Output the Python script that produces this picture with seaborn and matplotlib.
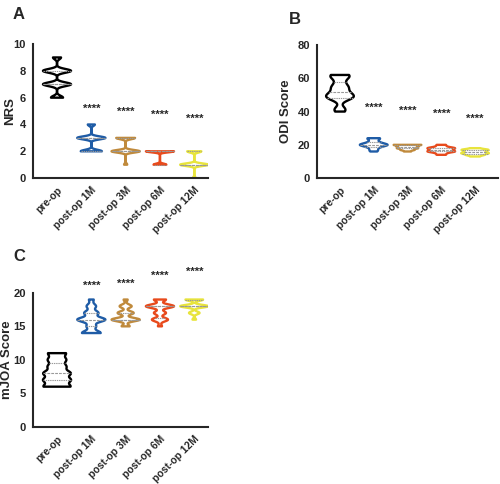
"""Violin plots of NRS, ODI and mJOA scores before and after surgery."""

import matplotlib
matplotlib.use("Agg")
import matplotlib.pyplot as plt
import pandas as pd
import seaborn as sns

GROUPS = ["pre-op", "post-op 1M", "post-op 3M", "post-op 6M", "post-op 12M"]
COLORS = ["#000000", "#1f5ca6", "#c08a3c", "#e84a1c", "#e8e43c"]

# NRS
NRS_PRE = [6, 6, 6, 7, 7, 7, 7, 7, 7, 7, 8, 8, 8, 8, 8, 8, 8, 9, 9]
NRS_1M = [2, 2, 2, 2, 2, 2, 3, 3, 3, 3, 3, 3, 3, 3, 4, 4]
NRS_3M = [1, 2, 2, 2, 2, 2, 2, 2, 2, 2, 3, 3, 3, 3, 3, 3]
NRS_6M = [1, 1, 1, 1, 1, 2, 2, 2, 2, 2, 2, 2, 2, 2, 2, 2]
NRS_12M = [0, 1, 1, 1, 1, 1, 1, 1, 1, 1, 1, 2, 2, 2, 2, 2]
NRS_STARS = [5.2, 4.95, 4.7, 4.4]

# ODI
ODI_PRE = [40, 41, 42, 47, 48, 48, 49, 49, 50, 50, 51, 52, 54, 54, 55, 56, 58, 60, 61, 62, 62, 62]
ODI_1M = [16, 17, 18, 19, 19, 20, 20, 20, 20, 21, 21, 22, 23, 24, 24]
ODI_3M = [16, 17, 17, 18, 18, 18, 19, 19, 19, 20, 20, 20, 20]
ODI_6M = [14, 15, 16, 16, 16, 17, 17, 18, 18, 18, 19, 20]
ODI_12M = [13, 14, 14, 15, 15, 15, 16, 16, 17, 17, 17, 18]
ODI_STARS = [42.5, 40.7, 38.9, 35.9]

# mJOA
JOA_PRE = [6, 6, 6, 7, 7, 7, 8, 8, 8, 9, 9, 10, 10, 11, 11]
JOA_1M = [14, 14, 14, 14, 15, 15, 16, 16, 16, 16, 16, 16, 17, 17, 17, 18, 18, 19]
JOA_3M = [15, 15, 16, 16, 16, 16, 16, 16, 16, 17, 17, 17, 17, 18, 18, 18, 19]
JOA_6M = [15, 16, 16, 16, 16, 17, 17, 17, 18, 18, 18, 18, 18, 18, 18, 19, 19, 19]
JOA_12M = [16, 17, 17, 17, 18, 18, 18, 18, 18, 18, 18, 18, 19, 19, 19, 19, 19]
JOA_STARS = [21.0, 21.4, 22.6, 23.1]


def to_frame(*groups):
    rows = []
    for name, values in zip(GROUPS, groups):
        rows += [(name, v) for v in values]
    return pd.DataFrame(rows, columns=["time", "score"])


def draw_panel(ax, df, stars, ylabel, ylim, yticks, bw, xlim, label_x):
    sns.violinplot(data=df, x="time", y="score", hue="time", order=GROUPS,
                   hue_order=GROUPS, palette=COLORS, fill=False, inner="quart",
                   cut=0, density_norm="width", width=0.82, linewidth=1.7,
                   bw_adjust=bw, legend=False, ax=ax,
                   inner_kws=dict(color="0.6", linewidth=0.8))
    for i, y in enumerate(stars, start=1):
        ax.text(i, y, "****", ha="center", va="center", fontsize=8,
                fontweight="bold", color="0.15", clip_on=False)
    ax.set_ylim(*ylim)
    ax.set_yticks(yticks)
    ax.set_xlim(*xlim)
    ax.set_xlabel("")
    ax.set_ylabel(ylabel, fontsize=9.5, fontweight="bold")
    ax.yaxis.set_label_coords(label_x, 0.5)
    ax.set_xticks(range(len(GROUPS)))
    ax.set_xticklabels(GROUPS, rotation=45, ha="right", rotation_mode="anchor",
                       fontsize=7.5, fontweight="bold")
    for lab in ax.get_yticklabels():
        lab.set_fontweight("bold")
        lab.set_fontsize(8)
    for side in ("top", "right"):
        ax.spines[side].set_visible(False)
    for side in ("left", "bottom"):
        ax.spines[side].set_linewidth(1.5)
    ax.tick_params(width=1.5, length=3.5, pad=1.5)


sns.set_style("white")
plt.rcParams["font.family"] = ["Liberation Sans", "DejaVu Sans"]

fig = plt.figure(figsize=(5.0, 4.84), dpi=100)
ax_a = fig.add_axes([0.066, 0.632, 0.35, 0.277])
ax_b = fig.add_axes([0.634, 0.632, 0.362, 0.275])
ax_c = fig.add_axes([0.066, 0.118, 0.35, 0.277])

draw_panel(ax_a, to_frame(NRS_PRE, NRS_1M, NRS_3M, NRS_6M, NRS_12M), NRS_STARS,
           "NRS", (0, 10), [0, 2, 4, 6, 8, 10], 0.28, (-0.7, 4.4), -0.095)
draw_panel(ax_b, to_frame(ODI_PRE, ODI_1M, ODI_3M, ODI_6M, ODI_12M), ODI_STARS,
           "ODI Score", (0, 80), [0, 20, 40, 60, 80], 0.5, (-0.68, 4.68), -0.14)
draw_panel(ax_c, to_frame(JOA_PRE, JOA_1M, JOA_3M, JOA_6M, JOA_12M), JOA_STARS,
           "mJOA Score", (0, 20), [0, 5, 10, 15, 20], 0.4, (-0.7, 4.4), -0.115)

for x, y, letter in [(0.026, 0.985, "A"), (0.578, 0.975, "B"), (0.026, 0.485, "C")]:
    fig.text(x, y, letter, fontsize=12, fontweight="bold", va="top")

fig.savefig("out.png", dpi=100)
